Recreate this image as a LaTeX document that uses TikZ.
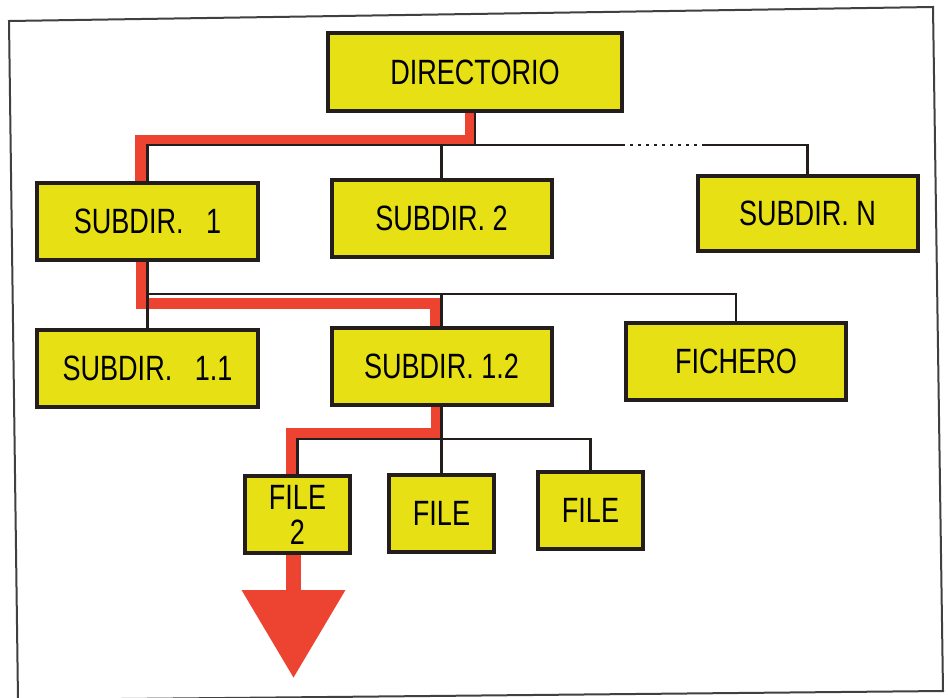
\documentclass[tikz,border=0pt]{standalone}
\usepackage{fontspec}
\usepackage{xcolor}
\usetikzlibrary{arrows.meta}
\newfontfamily\dirfont{Liberation Sans}[FakeStretch=0.77]
\definecolor{boxyellow}{RGB}{230,224,20}
\definecolor{pathred}{RGB}{236,68,48}
\definecolor{boxline}{RGB}{35,30,28}

\begin{document}
\begin{tikzpicture}[x=0.2mm,y=-0.2mm,
  dirbox/.style={draw=boxline,line width=0.8mm,fill=boxyellow,inner sep=0pt,
              minimum width=44mm,minimum height=15.4mm,align=center,
              font=\dirfont\fontsize{20}{20}\selectfont},
  filebox/.style={dirbox,minimum width=21mm},
  wire/.style={line width=0.45mm,boxline},
  redpath/.style={line width=2.2mm,pathred}]

  \useasboundingbox (0,0) rectangle (948,698);
  \fill[white] (0,0) rectangle (948,698);
  \draw[line width=0.4mm,black!75] (9,21) -- (933,7) -- (943,691) -- (18,700) -- cycle;

  \node[dirbox,minimum width=58.8mm] (dir)  at (475,72)    {DIRECTORIO};
  \node[dirbox]                      (s1)   at (147.5,221.5) {SUBDIR.\hspace{4.5mm}1};
  \node[dirbox]                      (s2)   at (441.5,218.5) {SUBDIR.~2};
  \node[dirbox,minimum height=15mm]  (sN)   at (807.5,213.5) {SUBDIR.~N};
  \node[dirbox]                      (s11)  at (147.5,368.5) {SUBDIR.\hspace{4.5mm}1.1};
  \node[dirbox]                      (s12)  at (441.5,366)   {SUBDIR.~1.2};
  \node[dirbox]                      (fich) at (736,361.5)   {FICHERO};
  \node[filebox]                     (f2)   at (297.5,514.5) {FILE\\2};
  \node[filebox]                     (fa)   at (441.5,513)   {FILE};
  \node[filebox]                     (fb)   at (590.5,510.5) {FILE};

  \coordinate (topbus) at (0,145);
  \coordinate (midbus) at (0,294);
  \coordinate (lowbus) at (0,439);
  \coordinate (dotL)   at (622,145);
  \coordinate (dotR)   at (705,145);
  \coordinate (exit)   at (0,678);

  % red path down to FILE 2
  \draw[redpath] ([xshift=-1mm]dir.south) |- ([xshift=-1.4mm,yshift=1mm]s1.north |- topbus)
    -- ([xshift=-1.4mm]s1.north);
  \draw[redpath] ([xshift=-1.3mm]s1.south) |- ([xshift=-1.3mm,yshift=-1.8mm]s12.north |- midbus)
    -- ([xshift=-1.3mm]s12.north);
  \draw[redpath] ([xshift=-1.1mm]s12.south) |- ([xshift=-1.3mm,yshift=1.2mm]f2.north |- lowbus)
    -- ([xshift=-1.3mm]f2.north);
  \draw[redpath,line width=2.9mm,-{Triangle[width=20mm,length=17.6mm]}]
    ([xshift=-0.8mm]f2.south) -- ([xshift=-0.8mm]f2.south |- exit);

  % tree lines
  \draw[wire] (s1.north) |- (topbus -| dir.south) -- (dir.south);
  \draw[wire] (s2.north) -- (s2.north |- topbus);
  \draw[wire] (dir.south |- topbus) -- (dotL);
  \draw[wire,dash pattern=on 0.6mm off 1mm] (dotL) -- (dotR);
  \draw[wire] (dotR) -| (sN.north);

  \draw[wire] (s11.north) |- (midbus -| fich.north) -- (fich.north);
  \draw[wire] (s1.south) -- (s1.south |- midbus);
  \draw[wire] (s12.north) -- (s12.north |- midbus);

  \draw[wire] (f2.north) |- (lowbus -| fb.north) -- (fb.north);
  \draw[wire] (s12.south) -- (fa.north);

\end{tikzpicture}
\end{document}
